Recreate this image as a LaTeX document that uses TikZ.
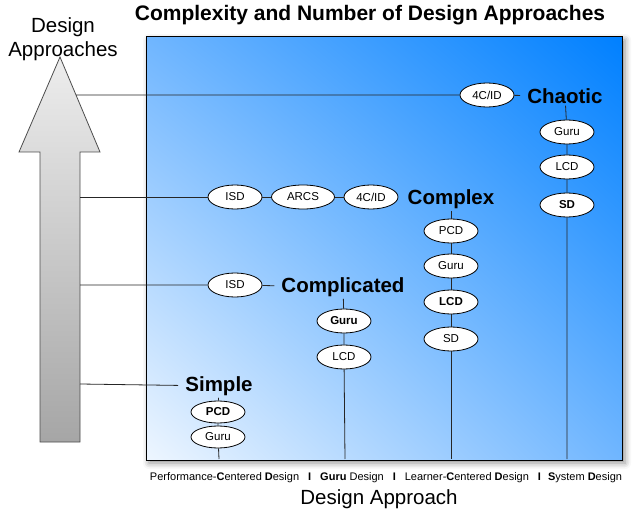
\documentclass[tikz,border=0pt]{standalone}
\usepackage{fontspec}
\setmainfont{Liberation Sans}
\usetikzlibrary{shapes.geometric,shadings,shadows.blur}

\definecolor{boxblue}{RGB}{0,128,255}
\definecolor{boxmid}{RGB}{112,182,255}
\definecolor{boxpale}{RGB}{238,246,255}

\begin{document}
\begin{tikzpicture}[x=1pt,y=-1pt,
appr/.style={ellipse,draw,fill=white,line width=.8pt,minimum width=54pt,minimum height=24pt,inner sep=0pt,font=\fontsize{11.5}{13}\selectfont},
apprsmall/.style={appr,minimum height=22pt},
level/.style={font=\fontsize{20.5}{24}\bfseries\selectfont,inner xsep=7pt,inner ysep=2pt},
link/.style={draw=black!85,line width=.8pt}]
\useasboundingbox (0,0) rectangle (641,511);

% box and axis arrow
\path[draw=black,line width=1pt,lower left=boxpale,upper right=boxblue,upper left=boxmid,lower right=boxmid,
  blur shadow={shadow xshift=3pt,shadow yshift=-3pt,shadow blur radius=6pt,shadow opacity=45}]
  (146,37) rectangle (622,460);
\path[draw=black!70,line width=.8pt,top color=black!7,bottom color=black!35]
  (40,442) -- (40,152) -- (19,152) -- (60,57) -- (100,152) -- (80,152) -- (80,442) -- cycle;
\coordinate (ax1) at (76,95);
\coordinate (ax2) at (80,197);
\coordinate (ax3) at (80,285);
\coordinate (ax4) at (80,384);

\node[font=\fontsize{21}{24}\bfseries\selectfont] (title) at (370,15) {Complexity and Number of Design Approaches};
\node[align=center,font=\fontsize{20.5}{24.5}\selectfont] (ylab) at (63,39) {Design\\Approaches};
\node[font=\fontsize{11}{12}\selectfont] (xcap) at (386,478) {Performance-\textbf{C}entered \textbf{D}esign\hspace{9pt}\textbf{I}\hspace{9pt}\textbf{Guru} Design\hspace{9pt}\textbf{I}\hspace{9pt}Learner-\textbf{C}entered \textbf{D}esign\hspace{9pt}\textbf{I}\hspace{7pt}\textbf{S}ystem \textbf{D}esign};
\node[font=\fontsize{20.5}{24}\selectfont] (xlab) at (379,499) {Design Approach};

% chaotic
\node[appr] (H0) at (487,95) {4C/ID};
\node[level] (H) at (565,96) {Chaotic};
\node[appr] (H1) at (567,132) {Guru};
\node[appr] (H2) at (567,167) {LCD};
\node[appr] (H3) at (567,205) {\bfseries SD};
\coordinate (Hb) at (567,459);

% complex
\node[appr] (X1) at (235,197) {ISD};
\node[appr,minimum width=63pt] (X2) at (303,197) {ARCS};
\node[appr] (X3) at (371,197) {4C/ID};
\node[level] (X) at (451,199) {Complex};
\node[appr] (X4) at (451,231) {PCD};
\node[appr] (X5) at (451,266) {Guru};
\node[appr] (X6) at (451,302) {\bfseries LCD};
\node[appr] (X7) at (451,339) {SD};
\coordinate (Xb) at (451,459);

% complicated
\node[appr] (C1) at (235,285) {ISD};
\node[level] (C) at (343,287) {Complicated};
\node[appr] (C2) at (344,321) {\bfseries Guru};
\node[appr] (C3) at (344,357) {LCD};
\coordinate (Cb) at (345,459);

% simple
\node[level] (S) at (219,386) {Simple};
\node[apprsmall] (S1) at (218,412) {\bfseries PCD};
\node[apprsmall] (S2) at (218,437) {Guru};
\coordinate (Sb) at (219,459);

\draw[link] (ax1)--(H0)--(H);
\draw[link] (H)--(H1)--(H2)--(H3)--(Hb);
\draw[link] (ax2)--(X1)--(X2)--(X3);
\draw[link] (X)--(X4)--(X5)--(X6)--(X7)--(Xb);
\draw[link] (ax3)--(C1)--(C);
\draw[link] (C)--(C2)--(C3)--(Cb);
\draw[link] (ax4)--(S)--(S1)--(S2)--(Sb);
\end{tikzpicture}
\end{document}
